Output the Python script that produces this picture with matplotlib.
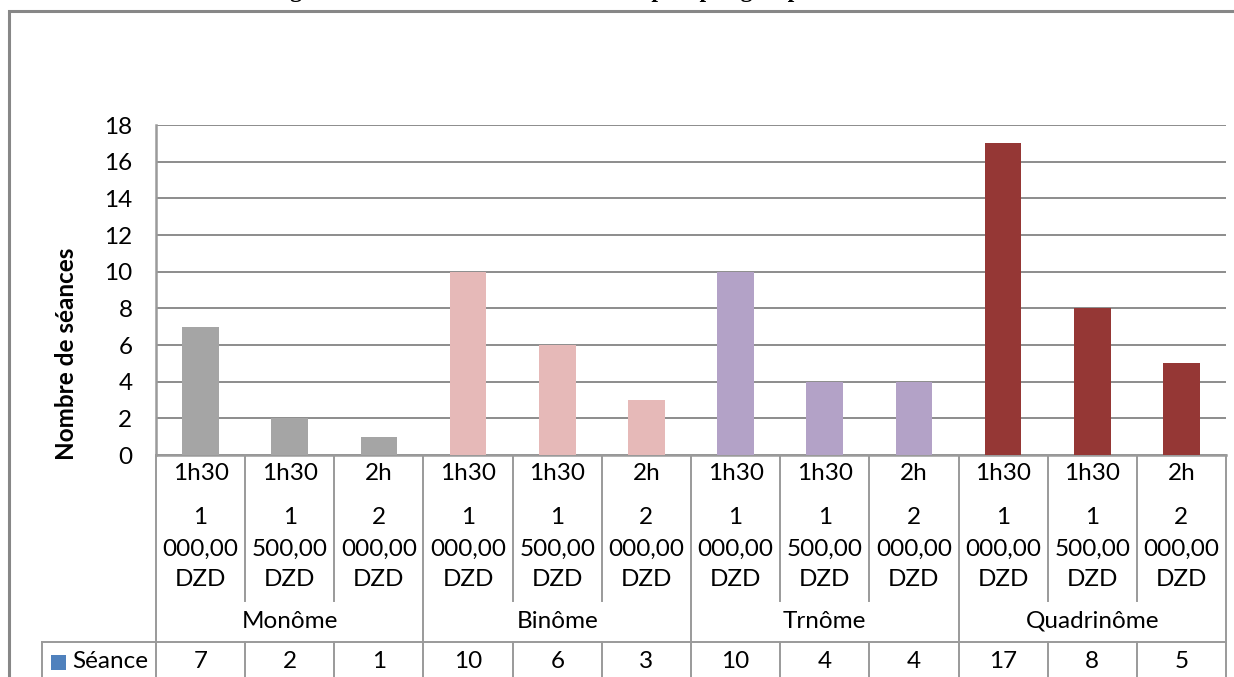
import matplotlib
matplotlib.use("Agg")
import matplotlib.pyplot as plt
from matplotlib.patches import Rectangle
from matplotlib.transforms import blended_transform_factory

# ---- data -------------------------------------------------------------
groups = ["Monôme", "Binôme", "Trnôme", "Quadrinôme"]
durations = ["1h30", "1h30", "2h"]
prices = ["1 000,00 DZD", "1 500,00 DZD", "2 000,00 DZD"]
seances = [7, 2, 1, 10, 6, 3, 10, 4, 4, 17, 8, 5]
group_colors = ["#A5A5A5", "#E6B9B8", "#B3A2C7", "#953735"]
series_name = "Séance"
series_color = "#4F81BD"
y_ticks = [0, 2, 4, 6, 8, 10, 12, 14, 16, 18]
y_label = "Nombre de séances"
title = "Figure 5 : Nombre de séances selon le prix par groupe d'étudiants"

# ---- figure -----------------------------------------------------------
W, H = 1234, 677
fig = plt.figure(figsize=(W / 100, H / 100), dpi=100)
plt.rcParams["font.family"] = ["Lato", "DejaVu Sans"]

def fx(px):
    return px / W

def fy(py):
    return 1 - py / H

left, right, top, bottom = 156, 1226, 125, 455
ax = fig.add_axes([fx(left), fy(bottom), fx(right - left), (bottom - top) / H])

n_per = len(durations)
n = len(seances)
xs = list(range(n))
colors = [group_colors[i // n_per] for i in xs]
ax.bar(xs, seances, width=0.41, color=colors, zorder=3)

fs = 17.5
ax.set_xlim(-0.5, n - 0.5)
ax.set_ylim(0, 18)
ax.set_yticks(y_ticks)
ax.set_xticks([])
grid_c = "#8C8C8C"
line_c = "#9A9A9A"
ax.yaxis.grid(True, color=grid_c, linewidth=1.4, zorder=0)
for s in ["top", "right"]:
    ax.spines[s].set_visible(False)
ax.spines["left"].set_color(line_c)
ax.spines["left"].set_linewidth(1.8)
ax.spines["bottom"].set_color(line_c)
ax.spines["bottom"].set_linewidth(1.8)
ax.tick_params(axis="y", length=0, pad=17, labelsize=fs, colors="black")
ax.set_ylabel(y_label, fontsize=fs, fontweight="bold")

ph = bottom - top  # axis height in pixels
pw = right - left

def ay(py):
    # pixel row -> axes fraction
    return (bottom - py) / ph

def axf(px):
    return (px - left) / pw

ax.yaxis.set_label_coords(axf(78), ay(354))

# ---- data table under the axis ----------------------------------------
tr = blended_transform_factory(ax.transData, ax.transAxes)
lw = 1.4
lk = dict(color=line_c, linewidth=lw, clip_on=False, zorder=4)

row_end = 601
sep_line = 642
y_end = 690

# column separators
for b in range(1, n):
    xb = b - 0.5
    if b % n_per == 0:
        ax.plot([xb, xb], [ay(bottom), ay(y_end)], transform=tr, **lk)
    else:
        ax.plot([xb, xb], [ay(bottom), ay(row_end)], transform=tr, **lk)
        ax.plot([xb, xb], [ay(sep_line), ay(y_end)], transform=tr, **lk)
# right border
ax.plot([1, 1], [0, ay(y_end)], transform=ax.transAxes, **lk)
# left border continues down
ax.plot([0, 0], [0, ay(y_end)], transform=ax.transAxes, **lk)
# row separator above the values row
ax.plot([axf(42), 1], [ay(sep_line), ay(sep_line)], transform=ax.transAxes, **lk)
# legend cell left border
ax.plot([axf(42), axf(42)], [ay(sep_line), ay(y_end)], transform=ax.transAxes, **lk)

for i in xs:
    d = durations[i % n_per]
    p = prices[i % n_per].split(" ")
    ax.text(i, ay(474), d, transform=tr, ha="center", va="center", fontsize=fs)
    for line, py in zip(p, [518, 549, 579]):
        ax.text(i, ay(py), line, transform=tr, ha="center", va="center", fontsize=fs)
    ax.text(i, ay(662), str(seances[i]), transform=tr, ha="center", va="center", fontsize=fs)

for g, name in enumerate(groups):
    xc = g * n_per + (n_per - 1) / 2
    ax.text(xc, ay(621), name, transform=tr, ha="center", va="center", fontsize=fs)

# legend key in the values row
ax.add_patch(Rectangle((axf(51), ay(670)), axf(66) - axf(51), ay(655) - ay(670),
                       transform=ax.transAxes, facecolor=series_color,
                       edgecolor="none", clip_on=False, zorder=5))
ax.text(axf(72), ay(662), series_name, transform=ax.transAxes, ha="left",
        va="center", fontsize=fs)

# ---- chart frame and title -------------------------------------------
frame = Rectangle((fx(9), fy(760)), fx(1400), fy(11) - fy(760),
                  transform=fig.transFigure, fill=False, edgecolor="#878787",
                  linewidth=2.2, clip_on=False)
fig.add_artist(frame)

fig.text(fx(600), fy(-2.5), title, ha="center", va="baseline",
         fontsize=17, fontweight="bold", family=["Liberation Serif"])

fig.savefig("out.png", dpi=100)
